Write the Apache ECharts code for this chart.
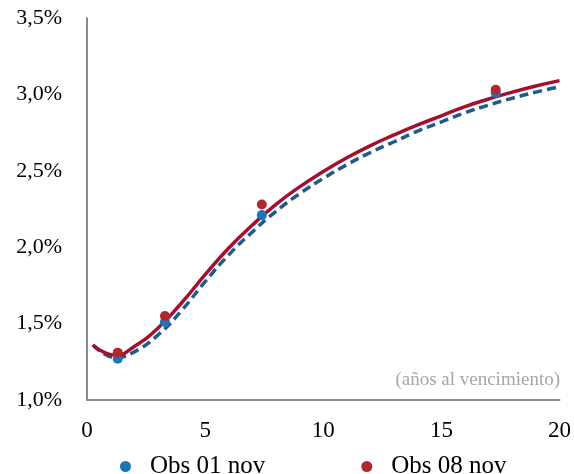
<!DOCTYPE html>
<html>
<head>
<meta charset="utf-8">
<script src="https://cdn.jsdelivr.net/npm/echarts@6/dist/echarts.min.js"></script>
<style>html,body{margin:0;padding:0;background:#fff}#c{width:574px;height:474px}</style>
</head>
<body>
<div id="c"></div>
<script>
// Maturities (years) for fitted curves
var curveX = [0.25, 0.75, 1.25, 2, 3, 4, 5, 6, 7, 8, 9, 10, 11, 12, 13, 14, 15, 16, 17, 18, 19, 20];
// Fitted curve 01 nov (%)
var curve01 = [1.36, 1.30, 1.28, 1.315, 1.425, 1.585, 1.775, 1.95, 2.10, 2.235, 2.35, 2.45, 2.54, 2.62, 2.69, 2.76, 2.82, 2.88, 2.93, 2.975, 3.015, 3.05];
// Fitted curve 08 nov (%)
var curve08 = [1.36, 1.31, 1.295, 1.35, 1.47, 1.635, 1.82, 1.995, 2.145, 2.28, 2.395, 2.495, 2.585, 2.665, 2.735, 2.80, 2.86, 2.92, 2.97, 3.015, 3.055, 3.09];
// Observed points
var obsX = [1.3, 3.3, 7.4, 17.3];
var obs01 = [1.27, 1.51, 2.21, 3.01];
var obs08 = [1.31, 1.55, 2.28, 3.03];
var xTicks = [0, 5, 10, 15, 20];
var yTicks = [1.0, 1.5, 2.0, 2.5, 3.0, 3.5];
var legendNames = ['Obs 01 nov', 'Obs 08 nov'];
var axisNote = '(años al vencimiento)';

function pairs(xs, ys) { return xs.map(function (x, i) { return [x, ys[i]]; }); }

var chart = echarts.init(document.getElementById('c'));
var serif = '"Liberation Serif", "Times New Roman", serif';
chart.setOption({
  animation: false,
  backgroundColor: '#ffffff',
  grid: { left: 87, right: 14, top: 18, bottom: 74 },
  xAxis: {
    type: 'value', min: xTicks[0], max: xTicks[xTicks.length - 1], interval: 5,
    axisLine: { show: true, lineStyle: { color: '#8a8a8a', width: 2 } },
    axisTick: { show: false }, splitLine: { show: false },
    axisLabel: { fontFamily: serif, fontSize: 23, color: '#000', margin: 19 }
  },
  yAxis: {
    type: 'value', min: yTicks[0], max: yTicks[yTicks.length - 1], interval: 0.5,
    axisLine: { show: true, lineStyle: { color: '#8a8a8a', width: 2 } },
    axisTick: { show: false }, splitLine: { show: false },
    axisLabel: {
      fontFamily: serif, fontSize: 22, color: '#000', margin: 25,
      formatter: function (v) { return v.toFixed(1).replace('.', ',') + '%'; }
    }
  },
  legend: {
    data: legendNames.map(function (n) { return { name: n, icon: 'circle' }; }),
    left: 115, top: 449, itemWidth: 11, itemHeight: 11, itemGap: 96,
    textStyle: { fontFamily: serif, fontSize: 25, color: '#000', padding: [0, 0, 0, 14] }
  },
  graphic: [{
    type: 'text', right: 14, top: 371,
    style: { text: axisNote, font: '19px ' + serif, fill: '#a6a6a6' }
  }],
  series: [
    {
      name: 'Curva 01 nov', type: 'line', smooth: 0.5, showSymbol: false,
      data: pairs(curveX, curve01),
      lineStyle: { color: '#1f5a8a', width: 3.5, type: [9, 5] }, z: 2
    },
    {
      name: 'Curva 08 nov', type: 'line', smooth: 0.5, showSymbol: false,
      data: pairs(curveX, curve08),
      lineStyle: { color: '#a3102f', width: 3.5 }, z: 3
    },
    {
      name: legendNames[0], type: 'scatter', symbolSize: 10,
      data: pairs(obsX, obs01), itemStyle: { color: '#1b75bb', opacity: 1 }, z: 4
    },
    {
      name: legendNames[1], type: 'scatter', symbolSize: 10,
      data: pairs(obsX, obs08), itemStyle: { color: '#b3282d', opacity: 1 }, z: 5
    }
  ]
});
</script>
</body>
</html>
